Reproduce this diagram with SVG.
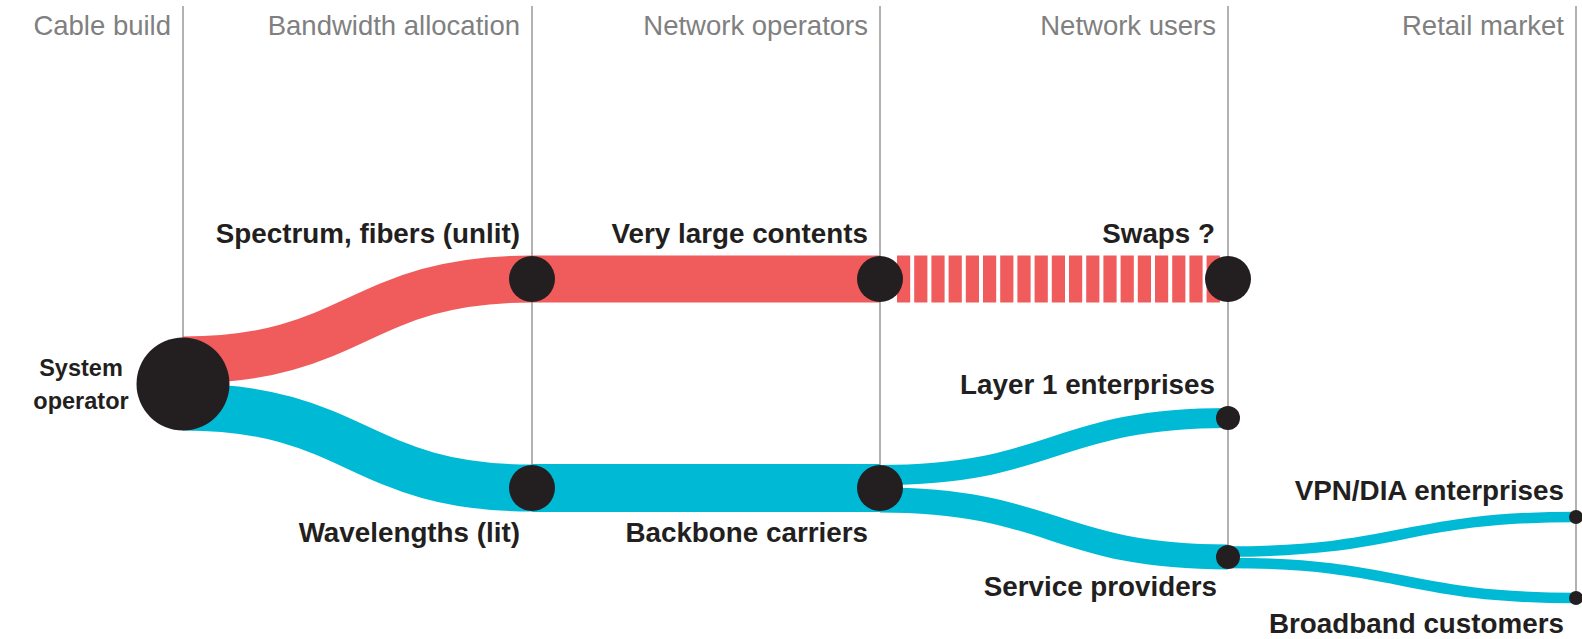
<svg xmlns="http://www.w3.org/2000/svg" width="1582" height="639" viewBox="0 0 1582 639">
<style>
.hdr{font-family:"Liberation Sans",Arial,sans-serif;font-size:27.5px;fill:#808080;text-anchor:end}
.lbl{font-family:"Liberation Sans",Arial,sans-serif;font-size:27.8px;font-weight:bold;fill:#231f20;text-anchor:end}
.mid{text-anchor:middle;font-size:23.5px}
.axis{stroke:#9f9f9f;stroke-width:1.6;fill:none}
.red{stroke:#f05b5c;fill:none}
.blue{stroke:#00bad5;fill:none}
.dot{fill:#231f20}
</style>
<rect width="1582" height="639" fill="#ffffff"/>
<g id="stages">
<line class="axis" x1="183" y1="6" x2="183" y2="384"/>
<line class="axis" x1="532" y1="6" x2="532" y2="488"/>
<line class="axis" x1="880" y1="6" x2="880" y2="488"/>
<line class="axis" x1="1228" y1="6" x2="1228" y2="557"/>
<line class="axis" x1="1576" y1="6" x2="1576" y2="598"/>
<text class="hdr" x="171" y="35">Cable build</text>
<text class="hdr" x="520" y="35">Bandwidth allocation</text>
<text class="hdr" x="868" y="35">Network operators</text>
<text class="hdr" x="1216" y="35">Network users</text>
<text class="hdr" x="1564" y="35">Retail market</text>
</g>
<g id="connectors">
<path class="red" stroke-width="47" d="M183 360 C357 360 357 279 532 279"/>
<path class="red" stroke-width="47" d="M532 279 H880"/>
<path class="red" stroke-width="47" stroke-dasharray="13.2 4" d="M897 279 H1220"/>
<path class="blue" stroke-width="47" d="M183 407 C357 407 357 488 532 488"/>
<path class="blue" stroke-width="48" d="M532 488 H880"/>
<path class="blue" stroke-width="20" d="M880 475 C1054 475 1054 418 1228 418"/>
<path class="blue" stroke-width="25" d="M880 500 C1054 500 1054 557 1228 557"/>
<path class="blue" stroke-width="10.5" d="M1228 551.5 C1402 551.5 1402 517 1576 517"/>
<path class="blue" stroke-width="10.5" d="M1228 563 C1402 563 1402 598 1576 598"/>
</g>
<g id="system-operator">
<circle class="dot" cx="183" cy="384" r="46.5"/>
<text class="lbl mid" x="81" y="376">System</text>
<text class="lbl mid" x="81" y="409">operator</text>
</g>
<g id="spectrum">
<circle class="dot" cx="532" cy="279" r="23"/>
<text class="lbl" x="520" y="243">Spectrum, fibers (unlit)</text>
</g>
<g id="very-large-contents">
<circle class="dot" cx="880" cy="279" r="23"/>
<text class="lbl" x="868" y="243">Very large contents</text>
</g>
<g id="swaps">
<circle class="dot" cx="1228" cy="279" r="23"/>
<text class="lbl" x="1215" y="243">Swaps ?</text>
</g>
<g id="wavelengths">
<circle class="dot" cx="532" cy="488" r="23"/>
<text class="lbl" x="520" y="542">Wavelengths (lit)</text>
</g>
<g id="backbone-carriers">
<circle class="dot" cx="880" cy="488" r="23"/>
<text class="lbl" x="868" y="542">Backbone carriers</text>
</g>
<g id="layer1-enterprises">
<circle class="dot" cx="1228" cy="418" r="12"/>
<text class="lbl" x="1215" y="394">Layer 1 enterprises</text>
</g>
<g id="service-providers">
<circle class="dot" cx="1228" cy="557" r="12"/>
<text class="lbl" x="1217" y="596">Service providers</text>
</g>
<g id="vpn-dia">
<circle class="dot" cx="1576" cy="517" r="7"/>
<text class="lbl" x="1564" y="500">VPN/DIA enterprises</text>
</g>
<g id="broadband">
<circle class="dot" cx="1576" cy="598" r="7"/>
<text class="lbl" x="1564" y="633">Broadband customers</text>
</g>
</svg>
